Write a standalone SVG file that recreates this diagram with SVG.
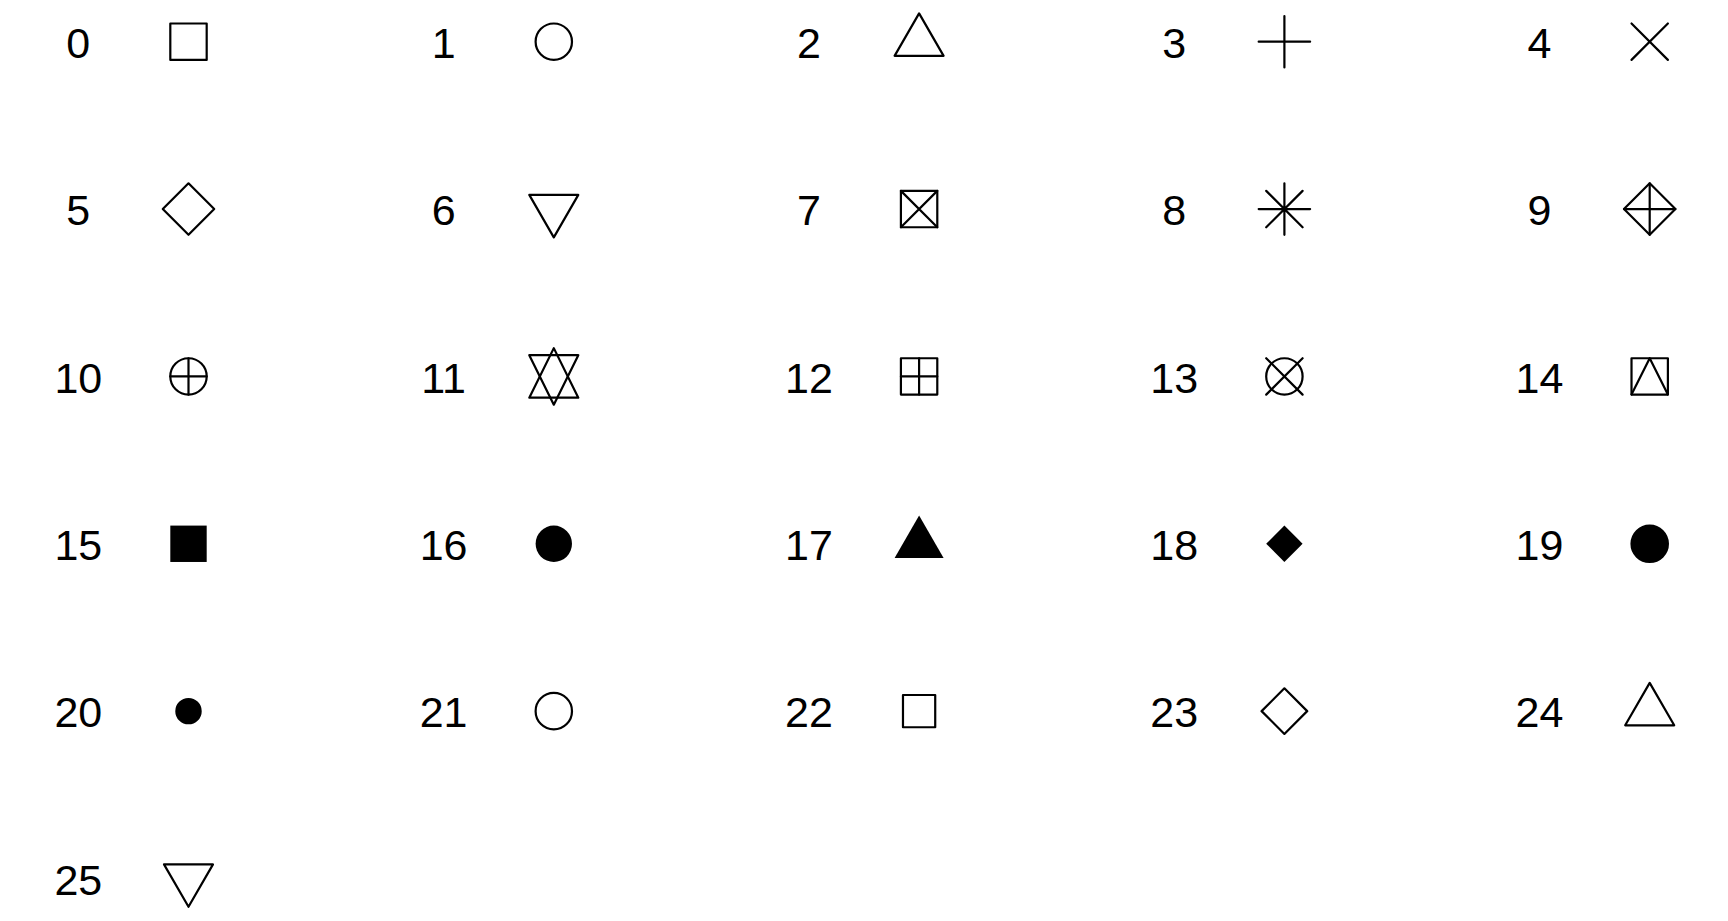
<svg xmlns="http://www.w3.org/2000/svg" xmlns:xlink="http://www.w3.org/1999/xlink" width="1728" height="921" viewBox="0 0 1728 921">
<style>
.lbl{font-family:"Liberation Sans",Arial,Helvetica,sans-serif;font-size:43px;fill:#000;text-anchor:middle}
.s{fill:none;stroke:#000;stroke-width:2.2;stroke-linejoin:round;stroke-linecap:round}
.f{fill:#000;stroke:none}
.fs{fill:#000;stroke:#000;stroke-width:2.2}
</style>
<defs>
<rect id="p0" class="s" x="-18.19" y="-18.19" width="36.38" height="36.38"/>
<circle id="p1" class="s" r="18.19"/>
<polygon id="p2" class="s" points="0,-28.29 24.5,14.14 -24.5,14.14"/>
<path id="p3" class="s" d="M-25.72 0H25.72M0 -25.72V25.72"/>
<path id="p4" class="s" d="M-18.19 -18.19L18.19 18.19M-18.19 18.19L18.19 -18.19"/>
<polygon id="p5" class="s" points="0,-25.72 25.72,0 0,25.72 -25.72,0"/>
<polygon id="p6" class="s" points="0,28.29 24.5,-14.14 -24.5,-14.14"/>
<g id="p7" class="s"><rect x="-18.19" y="-18.19" width="36.38" height="36.38"/><path d="M-18.19 -18.19L18.19 18.19M-18.19 18.19L18.19 -18.19"/></g>
<path id="p8" class="s" d="M-18.19 -18.19L18.19 18.19M-18.19 18.19L18.19 -18.19M-25.72 0H25.72M0 -25.72V25.72"/>
<g id="p9" class="s"><polygon points="0,-25.72 25.72,0 0,25.72 -25.72,0"/><path d="M-25.72 0H25.72M0 -25.72V25.72"/></g>
<g id="p10" class="s"><circle r="18.19"/><path d="M-18.19 0H18.19M0 -18.19V18.19"/></g>
<g id="p11" class="s"><polygon points="0,28.29 24.5,-21.22 -24.5,-21.22"/><polygon points="0,-28.29 24.5,21.22 -24.5,21.22"/></g>
<g id="p12" class="s"><rect x="-18.19" y="-18.19" width="36.38" height="36.38"/><path d="M-18.19 0H18.19M0 -18.19V18.19"/></g>
<g id="p13" class="s"><circle r="18.19"/><path d="M-18.19 -18.19L18.19 18.19M-18.19 18.19L18.19 -18.19"/></g>
<g id="p14" class="s"><polyline points="-18.19,18.19 0,-18.19 18.19,18.19"/><rect x="-18.19" y="-18.19" width="36.38" height="36.38"/></g>
<rect id="p15" class="f" x="-18.19" y="-18.19" width="36.38" height="36.38"/>
<circle id="p16" class="f" r="18.19"/>
<polygon id="p17" class="f" points="0,-28.29 24.5,14.14 -24.5,14.14"/>
<polygon id="p18" class="f" points="0,-18.19 18.19,0 0,18.19 -18.19,0"/>
<circle id="p19" class="fs" r="18.19"/>
<circle id="p20" class="fs" r="12.125"/>
<circle id="p21" class="s" r="18.19"/>
<rect id="p22" class="s" x="-16.12" y="-16.12" width="32.24" height="32.24"/>
<polygon id="p23" class="s" points="0,-22.8 22.8,0 0,22.8 -22.8,0"/>
<polygon id="p24" class="s" points="0,-28.29 24.5,14.14 -24.5,14.14"/>
<polygon id="p25" class="s" points="0,28.29 24.5,-14.14 -24.5,-14.14"/>
</defs>
<rect width="1728" height="921" fill="#fff"/>
<g id="pch0"><text class="lbl" x="78.3" y="57.8">0</text><use href="#p0" x="188.5" y="41.7"/></g>
<g id="pch1"><text class="lbl" x="443.6" y="57.8">1</text><use href="#p1" x="553.8" y="41.7"/></g>
<g id="pch2"><text class="lbl" x="808.9" y="57.8">2</text><use href="#p2" x="919.1" y="41.7"/></g>
<g id="pch3"><text class="lbl" x="1174.2" y="57.8">3</text><use href="#p3" x="1284.4" y="41.7"/></g>
<g id="pch4"><text class="lbl" x="1539.5" y="57.8">4</text><use href="#p4" x="1649.7" y="41.7"/></g>
<g id="pch5"><text class="lbl" x="78.3" y="225.16">5</text><use href="#p5" x="188.5" y="209.06"/></g>
<g id="pch6"><text class="lbl" x="443.6" y="225.16">6</text><use href="#p6" x="553.8" y="209.06"/></g>
<g id="pch7"><text class="lbl" x="808.9" y="225.16">7</text><use href="#p7" x="919.1" y="209.06"/></g>
<g id="pch8"><text class="lbl" x="1174.2" y="225.16">8</text><use href="#p8" x="1284.4" y="209.06"/></g>
<g id="pch9"><text class="lbl" x="1539.5" y="225.16">9</text><use href="#p9" x="1649.7" y="209.06"/></g>
<g id="pch10"><text class="lbl" x="78.3" y="392.52">10</text><use href="#p10" x="188.5" y="376.42"/></g>
<g id="pch11"><text class="lbl" x="443.6" y="392.52">11</text><use href="#p11" x="553.8" y="376.42"/></g>
<g id="pch12"><text class="lbl" x="808.9" y="392.52">12</text><use href="#p12" x="919.1" y="376.42"/></g>
<g id="pch13"><text class="lbl" x="1174.2" y="392.52">13</text><use href="#p13" x="1284.4" y="376.42"/></g>
<g id="pch14"><text class="lbl" x="1539.5" y="392.52">14</text><use href="#p14" x="1649.7" y="376.42"/></g>
<g id="pch15"><text class="lbl" x="78.3" y="559.88">15</text><use href="#p15" x="188.5" y="543.78"/></g>
<g id="pch16"><text class="lbl" x="443.6" y="559.88">16</text><use href="#p16" x="553.8" y="543.78"/></g>
<g id="pch17"><text class="lbl" x="808.9" y="559.88">17</text><use href="#p17" x="919.1" y="543.78"/></g>
<g id="pch18"><text class="lbl" x="1174.2" y="559.88">18</text><use href="#p18" x="1284.4" y="543.78"/></g>
<g id="pch19"><text class="lbl" x="1539.5" y="559.88">19</text><use href="#p19" x="1649.7" y="543.78"/></g>
<g id="pch20"><text class="lbl" x="78.3" y="727.24">20</text><use href="#p20" x="188.5" y="711.14"/></g>
<g id="pch21"><text class="lbl" x="443.6" y="727.24">21</text><use href="#p21" x="553.8" y="711.14"/></g>
<g id="pch22"><text class="lbl" x="808.9" y="727.24">22</text><use href="#p22" x="919.1" y="711.14"/></g>
<g id="pch23"><text class="lbl" x="1174.2" y="727.24">23</text><use href="#p23" x="1284.4" y="711.14"/></g>
<g id="pch24"><text class="lbl" x="1539.5" y="727.24">24</text><use href="#p24" x="1649.7" y="711.14"/></g>
<g id="pch25"><text class="lbl" x="78.3" y="894.6">25</text><use href="#p25" x="188.5" y="878.5"/></g>
</svg>
